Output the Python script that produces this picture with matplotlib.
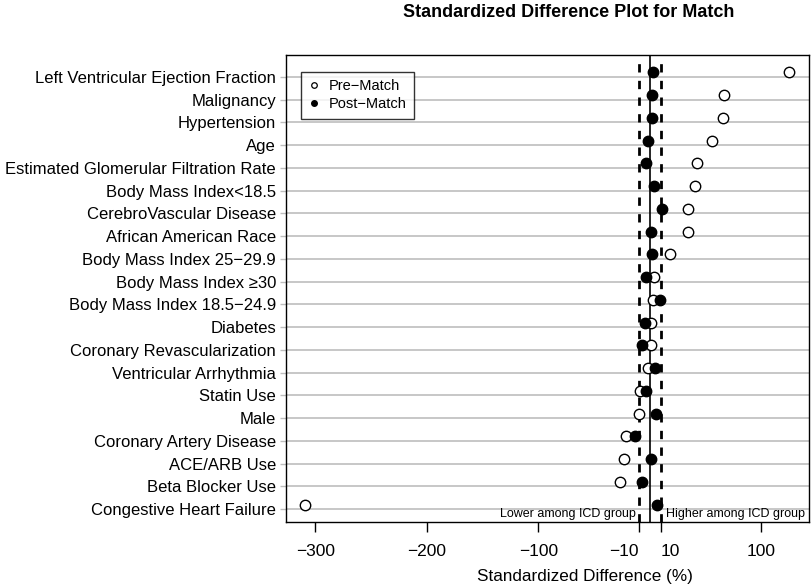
import matplotlib
matplotlib.use("Agg")
import matplotlib.pyplot as plt
import numpy as np

plt.rcParams['font.family'] = ['Liberation Sans', 'DejaVu Sans']

# 变量名（从上到下）
variables = [
    "Left Ventricular Ejection Fraction", "Malignancy", "Hypertension", "Age",
    "Estimated Glomerular Filtration Rate", "Body Mass Index<18.5",
    "CerebroVascular Disease", "African American Race", "Body Mass Index 25\u221229.9",
    "Body Mass Index \u226530", "Body Mass Index 18.5\u221224.9", "Diabetes",
    "Coronary Revascularization", "Ventricular Arrhythmia", "Statin Use", "Male",
    "Coronary Artery Disease", "ACE/ARB Use", "Beta Blocker Use",
    "Congestive Heart Failure",
]
# 匹配前 / 匹配后 标准化差异 (%)
pre_match = [124.7, 66.0, 65.5, 56.0, 42.6, 40.8, 34.3, 34.3, 17.9, 3.6,
             2.7, 0.9, 0.6, -1.8, -8.6, -9.5, -21.4, -23.2, -26.4, -309.0]
post_match = [2.7, 2.1, 1.5, -1.5, -3.8, 3.6, 10.4, 1.2, 2.1, -3.2,
              8.7, -4.7, -7.1, 4.2, -3.2, 5.7, -13.0, 0.6, -7.1, 6.3]
x_ticks = [-300, -200, -100, -10, 10, 100]
x_tick_labels = ["\u2212300", "\u2212200", "\u2212100", "\u221210", "10", "100"]

n = len(variables)
ypos = np.arange(n, 0, -1)  # 顶部为 n

fig = plt.figure(figsize=(8.12, 5.87), dpi=100)
ax = fig.add_axes([0.352, 0.111, 0.644, 0.795])

# 网格线（标签所在位置）
for y in ypos:
    ax.axhline(y - 0.2, color='#bdbdbd', linewidth=1.2, zorder=1)

ax.axvline(0, color='black', linewidth=1.2, zorder=2)
ax.axvline(-10, color='black', linewidth=2, linestyle=(0, (3, 3)), zorder=2)
ax.axvline(10, color='black', linewidth=2, linestyle=(0, (3, 3)), zorder=2)

ax.plot(pre_match, ypos, 'o', markerfacecolor='white', markeredgecolor='black',
        markersize=7.5, markeredgewidth=1.0, linestyle='none', zorder=3)
ax.plot(post_match, ypos, 'o', color='black', markersize=7.5,
        linestyle='none', zorder=4)

# 图例（小标记）
h1, = ax.plot([], [], 'o', markerfacecolor='white', markeredgecolor='black',
              markersize=4, markeredgewidth=0.9, linestyle='none')
h2, = ax.plot([], [], 'o', color='black', markersize=4, linestyle='none')
leg = ax.legend([h1, h2], ["Pre\u2212Match", "Post\u2212Match"],
                loc='upper left', bbox_to_anchor=(0.015, 0.98), fontsize=10.5,
                frameon=True, fancybox=False, edgecolor='black',
                handlelength=0.8, handletextpad=0.6, borderpad=0.5,
                labelspacing=0.3)
leg.get_frame().set_linewidth(1.0)
leg.set_zorder(5)

ax.text(-13, 0.6, "Lower among ICD group", ha='right', va='center', fontsize=9)
ax.text(14, 0.6, "Higher among ICD group", ha='left', va='center', fontsize=9)

ax.set_xlim(-326.4, 142.4)
ax.set_ylim(0.24, n + 0.76)
ax.set_xticks(x_ticks)
ax.set_xticklabels(x_tick_labels, fontsize=12.5)
# -10 和 10 的标签分别向两侧对齐，避免重叠
xl = ax.get_xticklabels()
xl[3].set_horizontalalignment('right')
xl[4].set_horizontalalignment('left')
ax.set_yticks(ypos - 0.2)
ax.set_yticklabels(variables, fontsize=12.0)
ax.tick_params(axis='x', length=7, width=1, pad=9)
ax.tick_params(axis='y', length=4, width=1, color='#bdbdbd', pad=3)
for s in ax.spines.values():
    s.set_linewidth(1.0)

fig.text(0.70, 0.979, "Standardized Difference Plot for Match", ha='center',
         va='center', fontsize=13, fontweight='bold')
fig.text(0.72, 0.018, "Standardized Difference (%)", ha='center', va='center',
         fontsize=12.3)

fig.savefig("out.png", dpi=100)
